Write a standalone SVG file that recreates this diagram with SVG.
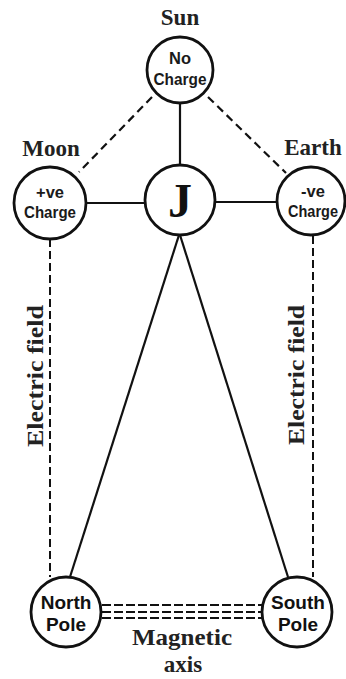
<svg xmlns="http://www.w3.org/2000/svg" width="346" height="679" viewBox="0 0 346 679">
<style>
.c{fill:#fff;stroke:#111;stroke-width:2.8}
.ln{stroke:#111;stroke-width:2.2;fill:none}
.d{stroke:#111;stroke-width:2.2;fill:none;stroke-dasharray:8 5}
.dv{stroke:#111;stroke-width:2;fill:none;stroke-dasharray:8 4}
.dm{stroke:#111;stroke-width:2.2;fill:none;stroke-dasharray:9 3}
.lbl{font-family:"Liberation Sans",serif;font-family:"Liberation Serif","Times New Roman",serif;font-weight:bold;font-size:23px;fill:#222;text-anchor:middle}
.in{font-family:"Liberation Sans",Arial,sans-serif;font-weight:bold;font-size:16.5px;fill:#1a1a1a;text-anchor:middle}
.pl{font-family:"Liberation Sans",Arial,sans-serif;font-weight:bold;font-size:19px;fill:#111;text-anchor:middle}
</style>
<g id="connectors">
<line class="ln" x1="180" y1="103" x2="180" y2="166"/>
<line class="ln" x1="86" y1="203" x2="145" y2="203"/>
<line class="ln" x1="215" y1="202" x2="277" y2="202"/>
<line class="d" x1="152" y1="97" x2="79" y2="172"/>
<line class="d" x1="208" y1="97" x2="286" y2="173"/>
<line class="dv" x1="50" y1="239" x2="50" y2="577"/>
<line class="dv" x1="313" y1="236" x2="313" y2="577"/>
<line class="ln" x1="179" y1="235" x2="70" y2="577"/>
<line class="ln" x1="180" y1="235" x2="288" y2="577"/>
<line class="dm" x1="102" y1="605" x2="262" y2="605"/>
<line class="dm" x1="102" y1="612" x2="262" y2="612"/>
<line class="dm" x1="102" y1="618" x2="262" y2="618"/>
</g>
<g id="sun">
<text class="lbl" x="180" y="25">Sun</text>
<circle class="c" cx="180" cy="70" r="33"/>
<text class="in" x="180" y="64">No</text>
<text class="in" x="180" y="85" textLength="53" lengthAdjust="spacingAndGlyphs">Charge</text>
</g>
<g id="moon">
<text class="lbl" x="51" y="156">Moon</text>
<circle class="c" cx="50" cy="203" r="36"/>
<text class="in" x="50" y="198">+ve</text>
<text class="in" x="50" y="218" textLength="52" lengthAdjust="spacingAndGlyphs">Charge</text>
</g>
<g id="earth">
<text class="lbl" x="313" y="155">Earth</text>
<circle class="c" cx="311" cy="201" r="34"/>
<text class="in" x="313" y="197">-ve</text>
<text class="in" x="313" y="217" textLength="50" lengthAdjust="spacingAndGlyphs">Charge</text>
</g>
<g id="j">
<circle class="c" cx="180" cy="200" r="35"/>
<text x="180" y="217" style="font-family:'Liberation Serif','Times New Roman',serif;font-weight:bold;font-size:48px;fill:#111;text-anchor:middle">J</text>
</g>
<g id="north-pole">
<circle class="c" cx="66" cy="612" r="35"/>
<text class="pl" x="66" y="609">North</text>
<text class="pl" x="66" y="631">Pole</text>
</g>
<g id="south-pole">
<circle class="c" cx="297" cy="612" r="35"/>
<text class="pl" x="298" y="609">South</text>
<text class="pl" x="298" y="631">Pole</text>
</g>
<g id="labels">
<text class="lbl" transform="translate(43,376) rotate(-90)" textLength="142" lengthAdjust="spacingAndGlyphs">Electric field</text>
<text class="lbl" transform="translate(304,375) rotate(-90)" textLength="140" lengthAdjust="spacingAndGlyphs">Electric field</text>
<text class="lbl" x="182" y="645" textLength="100" lengthAdjust="spacingAndGlyphs">Magnetic</text>
<text class="lbl" x="183" y="672">axis</text>
</g>
</svg>
